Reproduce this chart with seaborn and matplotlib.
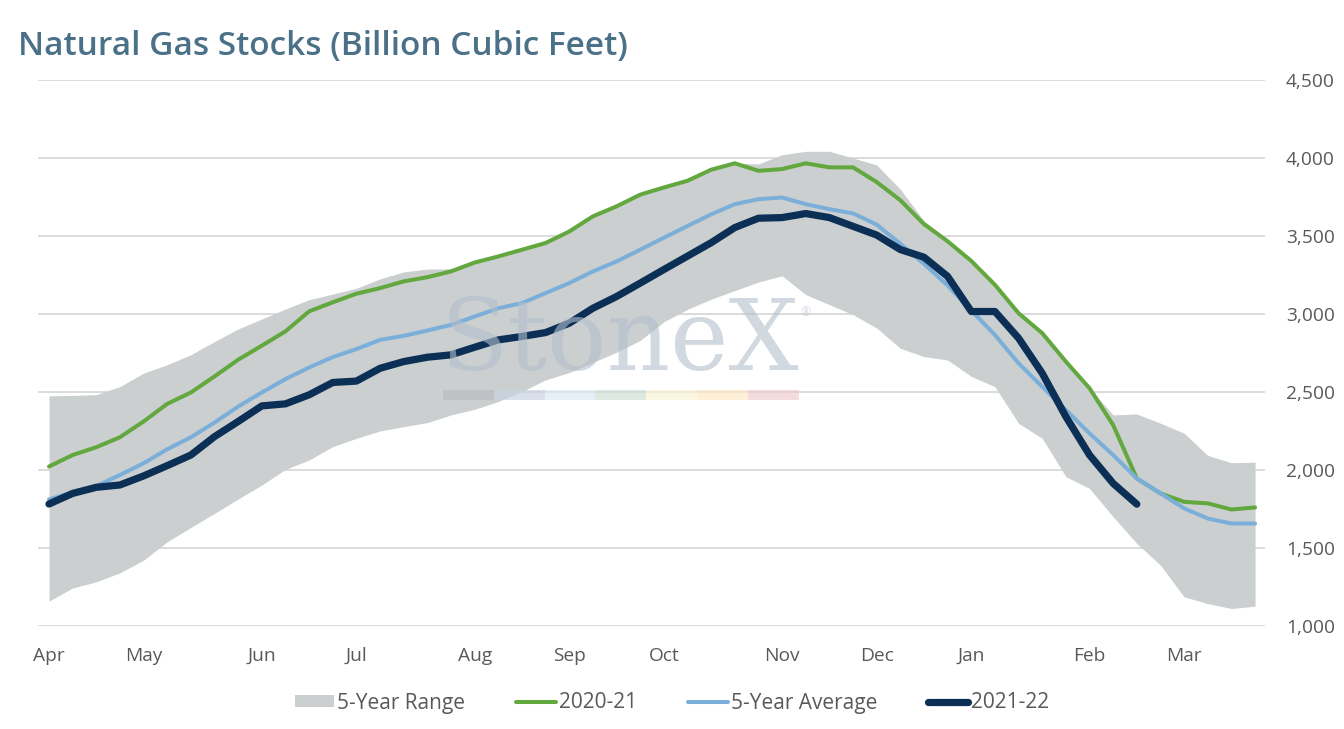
import matplotlib
matplotlib.use("Agg")
import matplotlib.pyplot as plt
import matplotlib.patches as mpatches
from matplotlib.lines import Line2D
from matplotlib.ticker import FuncFormatter
import numpy as np
import pandas as pd
import seaborn as sns

# weekly storage, Apr -> Mar (52 weeks)
stocks_2020_21 = [2022, 2096, 2146, 2210, 2311, 2424, 2497, 2600, 2707, 2797,
                  2889, 3017, 3075, 3130, 3166, 3209, 3236, 3273, 3330, 3369,
                  3412, 3455, 3529, 3626, 3690, 3765, 3811, 3854, 3925, 3966,
                  3918, 3929, 3966, 3940, 3940, 3846, 3729, 3576, 3466, 3340,
                  3187, 3005, 2877, 2695, 2524, 2288, 1946, 1850, 1796, 1786,
                  1747, 1760]
avg_5yr = [1812, 1855, 1897, 1968, 2043, 2133, 2210, 2304, 2407, 2497,
           2583, 2657, 2724, 2775, 2834, 2860, 2894, 2930, 2984, 3037,
           3070, 3134, 3198, 3273, 3337, 3412, 3489, 3564, 3639, 3704,
           3736, 3747, 3704, 3672, 3645, 3573, 3450, 3322, 3183, 3022,
           2866, 2684, 2534, 2385, 2235, 2096, 1946, 1850, 1754, 1689,
           1657, 1657]
stocks_2021_22 = [1782, 1850, 1889, 1904, 1962, 2028, 2096, 2214, 2311, 2411,
                  2424, 2482, 2561, 2570, 2652, 2695, 2723, 2738, 2787, 2834,
                  2856, 2881, 2941, 3037, 3112, 3198, 3285, 3371, 3457, 3554,
                  3614, 3618, 3644, 3618, 3562, 3506, 3413, 3364, 3241, 3016,
                  3016, 2845, 2620, 2342, 2096, 1914, 1781]
range_high = [2475, 2478, 2483, 2535, 2621, 2675, 2739, 2824, 2904, 2968,
              3032, 3092, 3128, 3165, 3225, 3270, 3288, 3290, 3330, 3369,
              3412, 3455, 3529, 3626, 3690, 3765, 3811, 3854, 3925, 3966,
              3962, 4021, 4043, 4043, 4000, 3955, 3800, 3597, 3479, 3340,
              3187, 3005, 2877, 2695, 2524, 2353, 2359, 2300, 2236, 2093,
              2047, 2050]
range_low = [1159, 1244, 1283, 1341, 1422, 1540, 1632, 1722, 1814, 1904,
             2004, 2064, 2150, 2203, 2250, 2278, 2304, 2353, 2389, 2439,
             2503, 2578, 2625, 2690, 2755, 2830, 2950, 3030, 3095, 3150,
             3205, 3245, 3124, 3060, 2996, 2910, 2780, 2727, 2705, 2600,
             2534, 2299, 2203, 1957, 1882, 1700, 1529, 1390, 1187, 1144,
             1112, 1127]
month_labels = ["Apr", "May", "Jun", "Jul", "Aug", "Sep", "Oct", "Nov",
                "Dec", "Jan", "Feb", "Mar"]
month_weeks = [0, 4, 9, 13, 18, 22, 26, 31, 35, 39, 44, 48]

weeks = np.arange(len(avg_5yr))
df = pd.DataFrame({"week": weeks, "prev": stocks_2020_21, "avg": avg_5yr,
                   "lo": range_low, "hi": range_high})
df_cur = pd.DataFrame({"week": np.arange(len(stocks_2021_22)),
                       "cur": stocks_2021_22})

GRAY_BAND = "#cbcfd0"
GREEN = "#62a83e"
LIGHT_BLUE = "#7bafd9"
NAVY = "#0b2f55"
TEXT = "#595959"

sns.set_theme(style="white")
plt.rcParams["font.family"] = ["Open Sans", "DejaVu Sans"]

fig = plt.figure(figsize=(13.44, 7.29), dpi=100)
ax = fig.add_axes([38 / 1344, 1 - 626 / 729, (1265 - 38) / 1344, (626 - 80) / 729])

ax.fill_between(df["week"], df["lo"], df["hi"], color=GRAY_BAND, lw=0, zorder=1)

# watermark
fig.text(620 / 1344, 1 - 370 / 729, "StoneX", ha="center", va="baseline",
         fontsize=71, family="DejaVu Serif", color="#b3bfcc", alpha=0.6, zorder=2)
fig.text(806 / 1344, 1 - 316 / 729, "®", ha="center", va="baseline",
         fontsize=9, color="#b3bfcc", alpha=0.6, zorder=2)
bar_cols = ["#b9bdbf", "#c9d3e0", "#dde9f3", "#cfe0d4", "#faf3d6", "#fde9c8", "#efcdd0"]
for i, c in enumerate(bar_cols):
    fig.patches.append(mpatches.Rectangle(((443 + i * 50.8) / 1344, 1 - 400 / 729),
                                          50.8 / 1344, 10 / 729, transform=fig.transFigure,
                                          color=c, alpha=0.7, lw=0, zorder=2))

sns.lineplot(data=df, x="week", y="prev", ax=ax, color=GREEN, lw=2.9, zorder=3)
sns.lineplot(data=df, x="week", y="avg", ax=ax, color=LIGHT_BLUE, lw=2.9, zorder=4)
sns.lineplot(data=df_cur, x="week", y="cur", ax=ax, color=NAVY, lw=5.2, zorder=5,
             solid_capstyle="round")

ax.set_xlim(-0.465, 51.42)
ax.set_ylim(1000, 4500)
ax.set_yticks(np.arange(1000, 4501, 500))
ax.yaxis.set_major_formatter(FuncFormatter(lambda v, p: f"{v:,.0f}"))
ax.yaxis.tick_right()
ax.set_xticks(month_weeks)
ax.set_xticklabels(month_labels)
ax.tick_params(axis="both", length=0, labelsize=13.8, labelcolor=TEXT)
ax.tick_params(axis="x", pad=15)
ax.tick_params(axis="y", pad=15)
ax.grid(axis="y", color="#d9d9d9", lw=1.3)
ax.set_axisbelow(True)
for s in ax.spines.values():
    s.set_visible(False)
ax.set_xlabel("")
ax.set_ylabel("")

fig.text(18 / 1344, 1 - 55 / 729, "Natural Gas Stocks (Billion Cubic Feet)",
         ha="left", va="baseline", fontsize=24, fontweight="semibold", color="#4b7189")

handles = [mpatches.Patch(color=GRAY_BAND, lw=0),
           Line2D([], [], color=GREEN, lw=2.9),
           Line2D([], [], color=LIGHT_BLUE, lw=2.9),
           Line2D([], [], color=NAVY, lw=5.2, solid_capstyle="round")]
labels = ["5-Year Range", "2020-21", "5-Year Average", "2021-22"]
fig.legend(handles, labels, loc="center", bbox_to_anchor=(0.5, 1 - 703 / 729),
           ncol=4, frameon=False, fontsize=15, labelcolor=TEXT,
           handlelength=1.9, handleheight=0.5, handletextpad=0.15, columnspacing=2.45)

fig.savefig("out.png", dpi=100)
